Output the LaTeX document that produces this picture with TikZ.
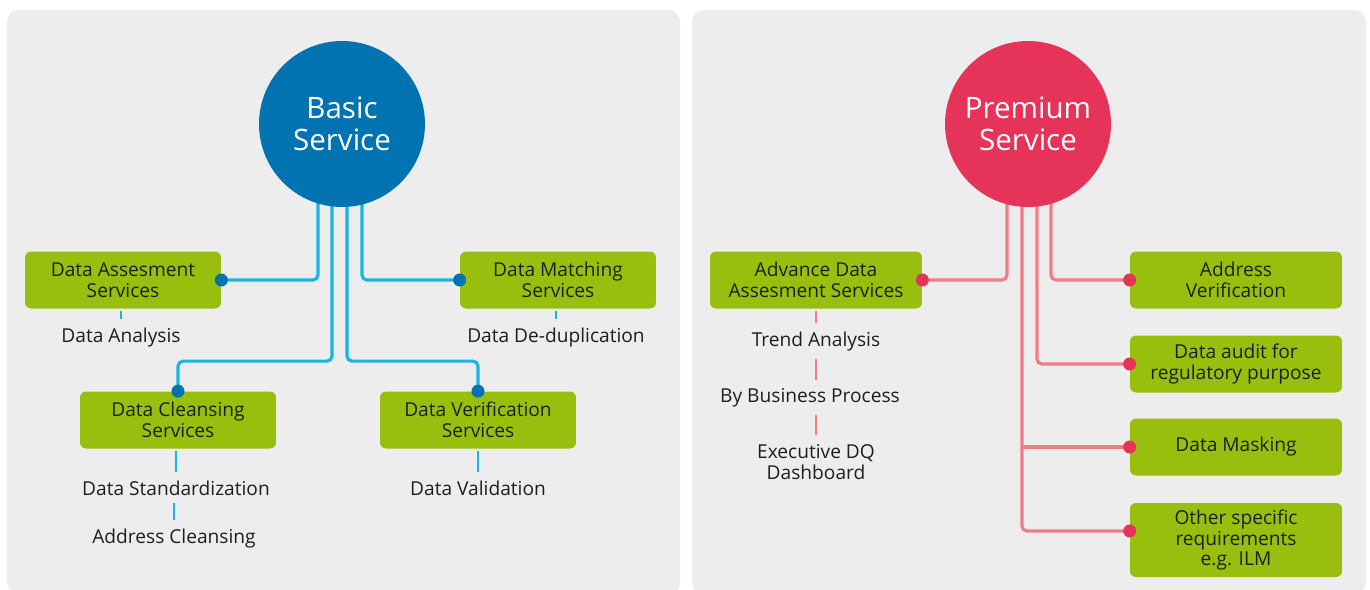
\documentclass[tikz,border=0pt]{standalone}
\usepackage{fontspec}
\setmainfont{Open Sans}
\usetikzlibrary{calc}

\definecolor{panelgray}{HTML}{ECEDEC}
\definecolor{leaf}{HTML}{99BF0E}
\definecolor{ink}{HTML}{1E1E1E}
\definecolor{basicblue}{HTML}{0073B0}
\definecolor{wireblue}{HTML}{1AB3E2}
\definecolor{premred}{HTML}{E5335A}
\definecolor{wirepink}{HTML}{F07D86}

\newcommand{\boxfont}{\fontsize{10.9}{11.9}\selectfont}
\newcommand{\hubfont}{\fontsize{16.8}{18.2}\selectfont}

\pgfdeclarelayer{panel}
\pgfdeclarelayer{wire}
\pgfsetlayers{panel,wire,main}

\begin{document}
\begin{tikzpicture}[x=0.02cm,y=-0.02cm,
    hub/.style={circle,minimum size=3.32cm,inner sep=0pt,text=white,align=center,font=\hubfont},
    box/.style={rounded corners=0.12cm,fill=leaf,text=ink,align=center,font=\boxfont,
      minimum width=3.92cm,minimum height=1.14cm,inner sep=2pt},
    pbox/.style={box,minimum width=4.24cm},
    item/.style={text=ink,align=center,font=\boxfont,inner sep=3pt},
    bwire/.style={draw=wireblue,line width=1.8pt,rounded corners=0.1cm},
    pwire/.style={draw=wirepink,line width=1.8pt,rounded corners=0.1cm},
    bsub/.style={draw=wireblue,line width=1.2pt,shorten <=1pt,shorten >=2pt},
    psub/.style={draw=wirepink,line width=1.2pt,shorten <=1pt,shorten >=2pt}]
  \useasboundingbox (0,0) rectangle (1370,589);
  \begin{pgfonlayer}{panel}
    \fill[white] (0,0) rectangle (1370,589);
    \fill[panelgray,rounded corners=0.24cm] (7,10) rectangle (680,594);
    \fill[panelgray,rounded corners=0.24cm] (692,10) rectangle (1366,594);
  \end{pgfonlayer}

  % basic service
  \node[hub,fill=basicblue] (basic) at (342,124) {Basic\\Service};
  \node[box] (assess) at (123,280) {Data Assesment\\Services};
  \node[box] (match) at (558,280) {Data Matching\\Services};
  \node[box] (clean) at (178,420) {Data Cleansing\\Services};
  \node[box] (verify) at (478,420) {Data Verification\\Services};

  \node[item] (analysis) at (121,338) {Data Analysis};
  \node[item] (dedup) at (556,338) {Data De-duplication};
  \node[item] (standard) at (176,488) {Data Standardization};
  \node[item] (addrclean) at (174,539) {Address Cleansing};
  \node[item] (validation) at (478,488) {Data Validation};

  \begin{pgfonlayer}{wire}
    \draw[bwire] ($(basic.center)+(-24,0)$) |- (assess.east);
    \draw[bwire] ($(basic.center)+(20,0)$) |- (match.west);
    \draw[bwire] ($(basic.center)+(-10,0)$) |- ($(clean.north)+(0,-30)$) -- (clean.north);
    \draw[bwire] ($(basic.center)+(5,0)$) |- ($(verify.north)+(0,-30)$) -- (verify.north);
  \end{pgfonlayer}
  \foreach \p in {assess.east,match.west,clean.north,verify.north}
    \fill[basicblue] (\p) circle (0.13cm);

  \draw[bsub] (assess.south -| analysis) -- (analysis);
  \draw[bsub] (match.south -| dedup) -- (dedup);
  \draw[bsub] (clean.south -| standard) -- (standard);
  \draw[bsub] (standard.south -| addrclean) -- (addrclean);
  \draw[bsub] (verify) -- (validation);

  % premium service
  \node[hub,fill=premred] (premium) at (1028,124) {Premium\\Service};
  \node[pbox] (advance) at (816,280) {Advance Data\\Assesment Services};
  \node[pbox] (address) at (1236,280) {Address\\Verification};
  \node[pbox] (audit) at (1236,364) {Data audit for\\regulatory purpose};
  \node[pbox] (masking) at (1236,447) {Data Masking};
  \node[pbox,minimum height=1.48cm] (other) at (1236,540) {Other specific\\requirements\\e.g. ILM};
  \coordinate (otherin) at ($(other.west)+(0,-9)$);
  \coordinate (ptrunk) at ($(premium.center)+(-6,0)$);

  \node[item] (trend) at (816,342) {Trend Analysis};
  \node[item] (process) at (810,398) {By Business Process};
  \node[item] (exec) at (816,462) {Executive DQ\\Dashboard};

  \begin{pgfonlayer}{wire}
    \draw[pwire] ($(premium.center)+(-21,0)$) |- (advance.east);
    \draw[pwire] ($(premium.center)+(23,0)$) |- (address.west);
    \draw[pwire] ($(premium.center)+(9,0)$) |- (audit.west);
    \draw[pwire] (ptrunk) |- (otherin);
    \draw[pwire] (masking.west -| ptrunk) -- (masking.west);
  \end{pgfonlayer}
  \foreach \p in {advance.east,address.west,audit.west,masking.west,otherin}
    \fill[premred] (\p) circle (0.13cm);

  \draw[psub] (advance) -- (trend);
  \draw[psub] (trend.south -| advance) -- (process.north -| advance);
  \draw[psub] (process.south -| advance) -- (exec);
\end{tikzpicture}
\end{document}
